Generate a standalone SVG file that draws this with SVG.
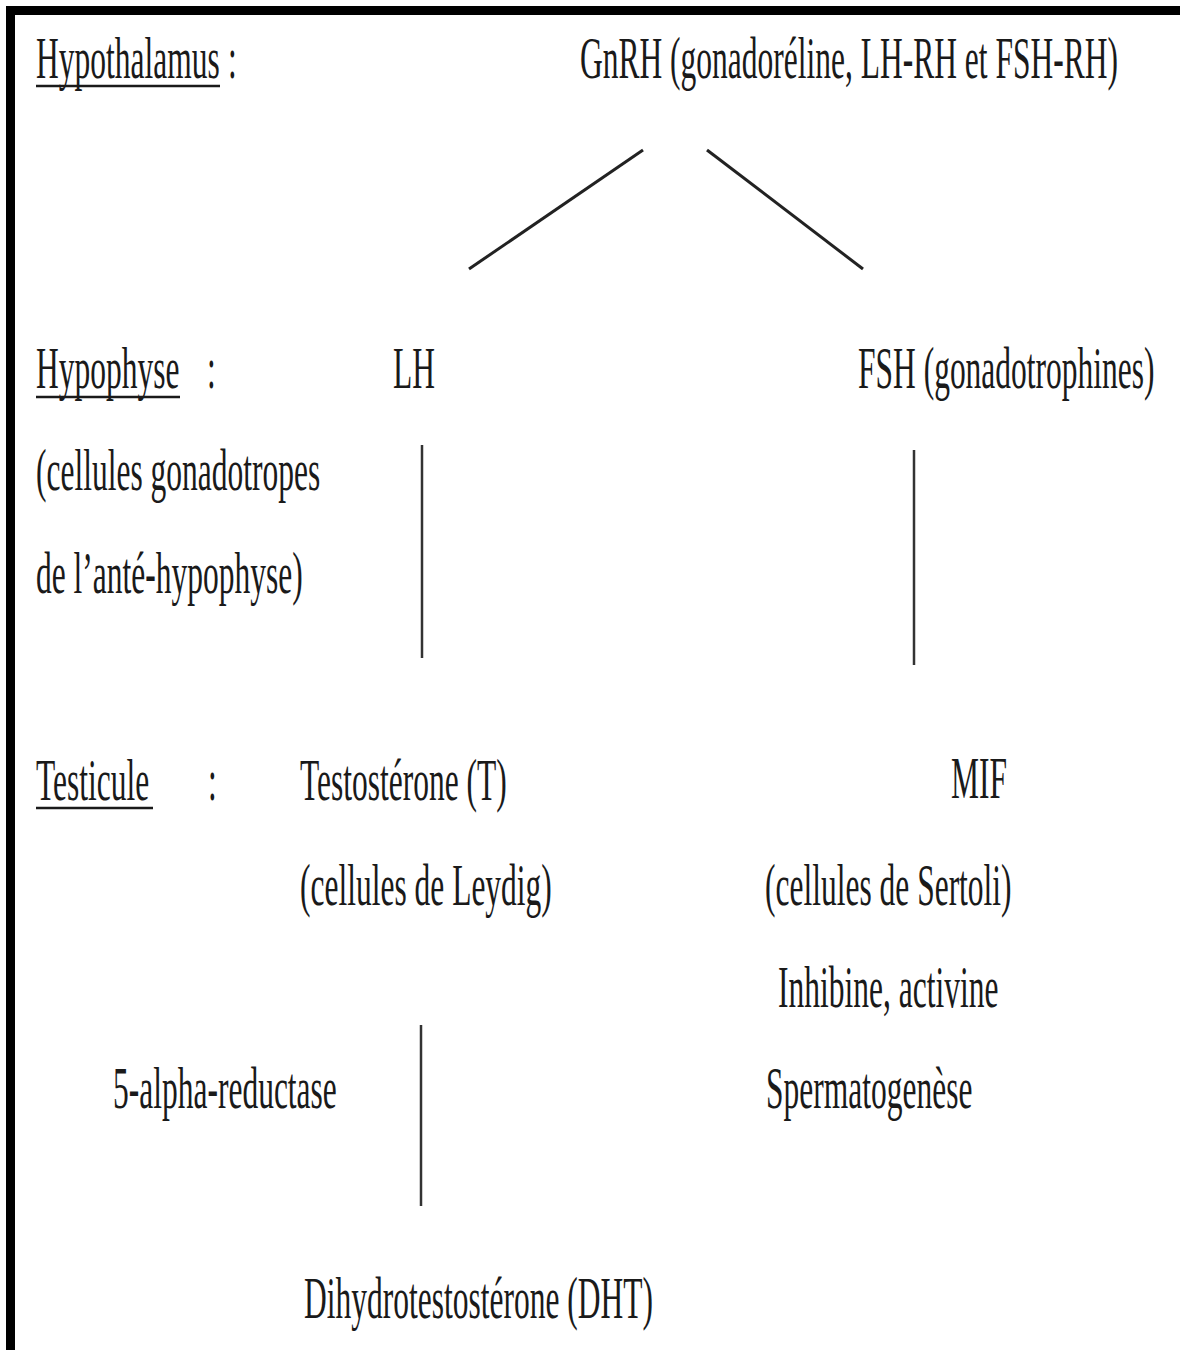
<svg xmlns="http://www.w3.org/2000/svg" width="1180" height="1350" viewBox="0 0 1180 1350">
<style>
text{font-family:"Liberation Serif","Times New Roman",serif;font-size:60px;fill:#1a1a1a}
.u{stroke:#1a1a1a;stroke-width:2.5}
.c{stroke:#222;stroke-width:3;fill:none}
.v{stroke:#333;stroke-width:2.5;fill:none}
</style>
<rect x="0" y="0" width="1180" height="1350" fill="#fff"/>
<rect x="6" y="6" width="1174" height="9" fill="#000"/>
<rect x="6" y="6" width="9" height="1344" fill="#000"/>

<g id="hypothalamus">
<text transform="translate(36,78) scale(0.525,1)">Hypothalamus</text>
<text transform="translate(228,78) scale(0.525,1)">:</text>
<line class="u" x1="36" y1="86" x2="220" y2="86"/>
</g>
<g id="gnrh"><text transform="translate(580,78) scale(0.525,1)">GnRH (gonadoréline, LH-RH et FSH-RH)</text></g>

<g id="hypophyse">
<text transform="translate(36,388) scale(0.525,1)">Hypophyse</text>
<text transform="translate(207,388) scale(0.525,1)">:</text>
<line class="u" x1="36" y1="397" x2="180" y2="397"/>
<text transform="translate(36,490) scale(0.525,1)">(cellules gonadotropes</text>
<text transform="translate(36,593) scale(0.525,1)">de l’anté-hypophyse)</text>
</g>
<g id="lh"><text transform="translate(393,388) scale(0.525,1)">LH</text></g>
<g id="fsh"><text transform="translate(858,388) scale(0.525,1)">FSH (gonadotrophines)</text></g>

<g id="testicule">
<text transform="translate(36,800) scale(0.525,1)">Testicule</text>
<text transform="translate(208,800) scale(0.525,1)">:</text>
<line class="u" x1="36" y1="808" x2="153" y2="808"/>
</g>
<g id="testosterone">
<text transform="translate(300,800) scale(0.525,1)">Testostérone (T)</text>
<text transform="translate(300,905) scale(0.525,1)">(cellules de Leydig)</text>
</g>
<g id="mif">
<text transform="translate(951,798) scale(0.525,1)">MIF</text>
<text transform="translate(765,905) scale(0.525,1)">(cellules de Sertoli)</text>
<text transform="translate(778,1007) scale(0.525,1)">Inhibine, activine</text>
<text transform="translate(766,1108) scale(0.525,1)">Spermatogenèse</text>
</g>
<g id="reductase"><text transform="translate(113,1108) scale(0.525,1)">5-alpha-reductase</text></g>
<g id="dht"><text transform="translate(304,1318) scale(0.525,1)">Dihydrotestostérone (DHT)</text></g>

<g id="connectors">
<line class="c" x1="643" y1="150" x2="469" y2="269"/>
<line class="c" x1="707" y1="150" x2="863" y2="269"/>
<line class="v" x1="422" y1="445" x2="422" y2="658"/>
<line class="v" x1="914" y1="450" x2="914" y2="665"/>
<line class="v" x1="421" y1="1025" x2="421" y2="1206"/>
</g>
</svg>
